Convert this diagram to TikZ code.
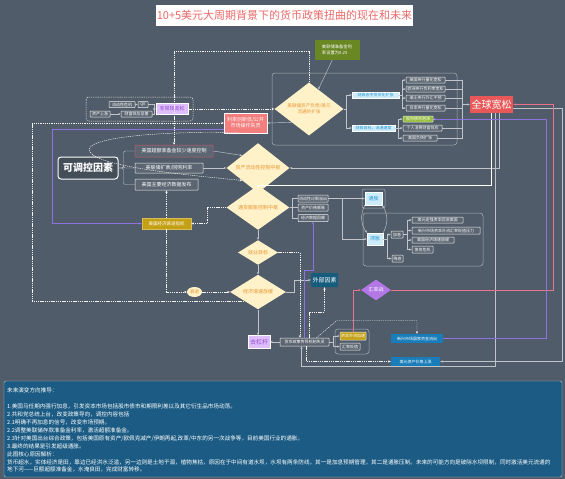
\documentclass[tikz,border=0pt]{standalone}
\usepackage{fontspec}
\setmainfont{Noto Sans CJK SC}
\usetikzlibrary{shapes.geometric,arrows.meta}

\definecolor{bgc}{RGB}{80,92,105}
\definecolor{boxgray}{RGB}{92,102,114}
\definecolor{lgray}{RGB}{190,196,202}
\definecolor{diayel}{RGB}{255,241,200}
\definecolor{diaorg}{RGB}{232,150,50}
\definecolor{lblue}{RGB}{205,236,250}
\definecolor{lbtxt}{RGB}{40,150,210}
\definecolor{qqred}{RGB}{232,88,88}
\definecolor{salmon}{RGB}{244,125,125}
\definecolor{notegreen}{RGB}{105,135,35}
\definecolor{leafgreen}{RGB}{150,190,60}
\definecolor{goldc}{RGB}{196,160,20}
\definecolor{darkblue}{RGB}{22,92,125}
\definecolor{violet2}{RGB}{180,120,230}
\definecolor{lav}{RGB}{222,190,252}
\definecolor{lavtxt}{RGB}{150,70,210}
\definecolor{bluebox}{RGB}{25,125,185}
\definecolor{panelc}{RGB}{28,92,132}
\definecolor{purpl}{RGB}{140,115,225}
\definecolor{pinkl}{RGB}{232,115,140}
\definecolor{redborder}{RGB}{205,85,110}
\definecolor{titlered}{RGB}{235,105,105}

\begin{document}
\begin{tikzpicture}[x=1pt,y=-1pt,>={Stealth[length=2.6pt,width=2.2pt]},
    every node/.style={inner sep=0.5pt},
    sz/.style 2 args={minimum width=#1,minimum height=#2},
    gbox/.style={draw=white!85!gray,fill=boxgray,text=white,font=\fontsize{4}{4.5}\selectfont,line width=0.5pt,rounded corners=0.6pt},
    dia/.style={diamond,fill=diayel,text=diaorg,font=\fontsize{5}{5.8}\selectfont,align=center,inner sep=0pt},
    lbbox/.style={fill=lblue,text=lbtxt,draw=white,line width=0.4pt,font=\fontsize{4}{4.5}\selectfont},
    link/.style={draw=lgray,line width=0.45pt,->},
    dlink/.style={link,draw=white!92!gray,dash pattern=on 1.3pt off 0.9pt},
    grpframe/.style={draw=lgray!80!bgc,line width=0.5pt,rounded corners=3pt}]
    \fill[bgc] (0,0) rectangle (565,479);
    \useasboundingbox (0,0) rectangle (565,479);

    \node[fill=white,text=titlered,font=\fontsize{11}{12}\selectfont,sz={253}{21}] (title) at (284.5,15.5) {10+5美元大周期背景下的货币政策扭曲的现在和未来};

    % upper part
    \draw[grpframe] (272,73) rectangle (457,145);
    \node[fill=notegreen,text=white,font=\fontsize{4.3}{6}\selectfont,align=left,sz={45}{20}] (note) at (337,50) {美联储准备金利\\率设置为0.25};
    \node[dia,sz={69}{43},font=\fontsize{4.6}{5.6}\selectfont] (fed) at (309,109) {美联储资产负债/美元\\流通的扩张};
    \node[lbbox,sz={47}{6}] (fis) at (375.5,95) {财政赤字货币化扩张};
    \node[lbbox,sz={43}{6}] (vel) at (373.5,128) {财政目标，流通速度};
    \node[gbox,sz={39}{6}] (ga) at (425.5,80) {英国央行量化宽松};
    \node[gbox,sz={39}{6}] (gb) at (425.5,89) {欧洲央行负利率宽松};
    \node[gbox,sz={39}{6}] (gc) at (425.5,98) {瑞士央行外汇干预};
    \node[gbox,sz={39}{6}] (gd) at (425.5,108) {日本央行量化宽松};
    \node[gbox,fill=leafgreen,sz={30}{6}] (ge) at (418,119) {股市债市泡沫};
    \node[gbox,sz={39}{6}] (gf) at (422.5,128) {个人消费财富效应};
    \node[gbox,sz={34}{6}] (gg) at (420,138) {美国负债扩张};
    \node[fill=qqred,text=white,font=\fontsize{10}{11}\selectfont,sz={43}{17}] (qq) at (491.5,104.5) {全球宽松};

    \draw[grpframe,draw=white!80!gray,dash pattern=on 1.3pt off 0.9pt] (86,97) rectangle (193,121);
    \node[gbox,sz={26}{6}] (crisis) at (122,104.5) {流动性危机};
    \node[gbox,sz={10}{6}] (qe) at (143,104.5) {QE};
    \node[gbox,sz={20}{6}] (rise) at (100,114) {资产上涨};
    \node[gbox,sz={31}{6}] (wealth) at (136.5,114) {财富效应显著};
    \node[fill=lav,text=lavtxt,draw=white,font=\fontsize{5}{6}\selectfont,sz={32}{11}] (unconv) at (172,109) {非常规宽松};
    \node[fill=salmon,draw=white,text=white,font=\fontsize{5}{6}\selectfont,align=center,sz={43}{20}] (rate) at (245.5,123) {利率创新低/公开\\市场操作失灵};

    % controllable factors
    \node[draw=white,line width=1pt,rounded corners=3pt,fill=bgc!85!black,text=white,font=\fontsize{10}{11}\selectfont\bfseries,sz={60}{22}] (ctrl) at (88,168) {可调控因素};
    \node[gbox,draw=redborder,font=\fontsize{5}{6}\selectfont,sz={78}{12}] (res) at (174,151) {美国超额准备金较少速度控制};
    \node[gbox,font=\fontsize{5}{6}\selectfont,sz={68}{10}] (repo) at (169,168) {美联储扩表/回购利率};
    \node[gbox,font=\fontsize{5}{6}\selectfont,sz={63}{11}] (data) at (166.5,184.5) {美国主要经济数据发布};
    \node[fill=goldc,text=white,draw=goldc!70!white,font=\fontsize{4.5}{5}\selectfont,sz={49}{11}] (gold) at (166.5,223.5) {美国经济衰退指标};
    \node[ellipse,fill=diayel,text=diaorg,font=\fontsize{4.5}{5}\selectfont,sz={15}{10},inner sep=0pt] (jy) at (194.5,292) {衰退};

    % diamonds in the middle
    \node[dia,sz={63}{30}] (liq) at (258,168) {资产流动性控制中枢};
    \node[dia,sz={63}{29}] (infl) at (258,207.5) {通货膨胀控制中枢};
    \node[dia,sz={40}{21}] (emp) at (258,252.5) {就业目标};
    \node[dia,sz={56}{30}] (growth) at (258,292) {经济增速放缓};

    \node[gbox,sz={30}{7}] (m1) at (313,198.5) {流动性过剩溢出};
    \node[gbox,sz={30}{7}] (m2) at (313,207.5) {资产价格膨胀};
    \node[gbox,sz={30}{7}] (m3) at (313,218) {经济数据回暖};
    \draw[grpframe,rounded corners=2pt] (362,189) rectangle (385,208);
    \node[lbbox,font=\fontsize{5}{6}\selectfont,sz={17}{13}] (tz) at (373.5,198.5) {通胀};
    \draw[grpframe] (363,213) rectangle (483,266);
    \node[lbbox,font=\fontsize{5}{6}\selectfont,sz={16}{12}] (zz) at (375,239) {滞胀};
    \node[gbox,sz={12}{7}] (hike) at (397,234.5) {加息};
    \node[gbox,sz={11}{7}] (cut) at (397.5,258.5) {降息};
    \node[gbox,sz={51}{6}] (r1) at (437.5,220) {美元走强资本回流美国};
    \node[gbox,sz={68}{7}] (r2) at (446,230.5) {新兴市场资本外流汇率贬值压力};
    \node[gbox,sz={42}{6}] (r3) at (433,240) {美国经济增速放缓};
    \node[gbox,sz={21}{7}] (r4) at (422.5,249.5) {债务危机};

    \node[fill=darkblue,text=white,rounded corners=1pt,font=\fontsize{6}{7}\selectfont,sz={27}{14}] (wb) at (324.5,280) {外部因素};
    \node[diamond,fill=violet2,text=white,font=\fontsize{5}{6}\selectfont,inner sep=0pt,sz={30}{21}] (hlz) at (376,290) {汇率战};

    % lower part
    \node[fill=lav,text=lavtxt,draw=white,font=\fontsize{6}{7}\selectfont,sz={22}{13}] (qgg) at (259,342) {去杠杆};
    \node[gbox,sz={49}{8}] (hb) at (304.5,342) {货币政策传导机制失灵};
    \draw[grpframe] (335,329) rectangle (369,354);
    \node[gbox,fill=goldc,sz={26}{8}] (yb) at (353,336) {资本外流加速};
    \node[gbox,sz={20}{7}] (gbb) at (350,346.5) {汇率贬值};
    \node[fill=bluebox,text=white,font=\fontsize{4}{4.5}\selectfont,sz={52}{9}] (bl1) at (417,338.5) {新兴市场国家资金流出};
    \node[fill=bluebox,text=white,font=\fontsize{4}{4.5}\selectfont,sz={49}{9}] (bl2) at (415.5,361.5) {美元资产价格上涨};

    % connectors
    \draw[link] (note) -- (fed);
    \draw[dlink] (fed.north) -- ++(0,-31) -| (res.north);
    \draw[dlink] (unconv.east) -- (fed.west);
    \draw[link] (fed.south west) -- (rate.east);
    \draw[link] (fed.east) -- ++(3,0) |- (fis.west);
    \draw[link] (fed.east) -- ++(3,0) |- (vel.west);
    \foreach \g in {ga,gb,gc,gd}
        \draw[link] (fis.east) -- ++(3,0) |- (\g.west);
    \foreach \g in {ge,gf,gg}
        \draw[link] (vel.east) -- ++(3,0) |- (\g.west);
    \coordinate (qin) at (462,104.5);
    \foreach \g in {ga,gb,gc,gd,ge,gf,gg}
        \draw[draw=lgray,line width=0.45pt] (\g.east) -| (qin);
    \draw[link] (qin) -- (qq.west);

    \draw[link] (crisis.east) -- (qe.west);
    \draw[link] (rise.east) -- (wealth.west);
    \draw[link] (qe.east) -- ++(6,0) |- (unconv.west);
    \draw[link] (wealth.east) -- ++(2,0) |- (unconv.west);

    \draw[link] ([xshift=8pt]qq.south) |- (liq.east);
    \draw[link,draw=white,line width=1pt] (qq.south) -- ++(0,72) -| (infl.north);
    \draw[link] ([xshift=4pt]qq.south) -- ++(0,253) -| ([xshift=-3pt]hb.south);
    \draw[link] ([yshift=-4pt]qq.east) -- ++(49,0) |- (bl2.east);
    \draw[link,draw=pinkl] (yb.north) |- (hlz.west);
    \draw[link,draw=pinkl] (hlz.east) -- ++(162,0) |- (qq.east);
    \draw[link,draw=purpl] (bl1.east) -- ++(103,0) |- (ge.east);

    \draw[link,draw=purpl] ([yshift=-6pt]rate.west) -- ++(-172,0) |- (gold.west);
    \draw[dlink] (growth.south west) -- ++(-212,0) |- (rate.west);
    \foreach \b in {res,repo,data}
        \draw[draw=lgray,line width=0.45pt,rounded corners=2pt] (ctrl.east) -- ++(5,0) |- (\b.west);
    \draw[link] (res.east) -- (liq.north west);
    \draw[link] (repo.east) -- (liq.west);
    \draw[dlink] (rate.south) .. controls (160,130) and (80,138) .. (90,152)
        .. controls (100,168) and (200,176) .. (liq.south west);

    \draw[dlink] (infl.west) -- ++(-19,0) |- (gold.east);
    \draw[dlink] (gold.north) -- (data.south);
    \draw[dlink] (gold.south) |- (jy.west);
    \draw[dlink] (jy.east) -- (growth.west);
    \draw[link] (infl.south) -- (emp.north);
    \draw[link] (emp.south) -- (growth.north);
    \draw[link] (growth.south) -- (growth.south |- qgg.north);
    \draw[dlink,line width=0.7pt] (emp.east) -| ([xshift=-4.5pt]hb.north);
    \draw[link] (growth.east) -- ++(8,0) |- (wb.west);
    \draw[dlink] ([xshift=4.5pt]hb.north) -- ++(0,-26) -| (wb.south);
    \draw[link,draw=purpl] (hb.north) -- ++(0,-68) -| (m3.south);

    \foreach \m in {m1,m2,m3}
        \draw[draw=lgray,line width=0.45pt] (infl.east) -- ++(3,0) |- (\m.west);
    \draw[link] (m1.east) -- (tz.west);
    \draw[link] (m1.east) -- ++(14,0) |- (zz.west);
    \draw[link] (tz.south west) to[bend right=30] (zz.north west);
    \draw[link] (zz.north east) to[bend right=30] (tz.south east);
    \foreach \k in {hike,cut}
        \draw[link] (zz.east) -- ++(4,0) |- (\k.west);
    \foreach \r in {r1,r2,r3,r4}
        \draw[link] (hike.east) -- ++(4,0) |- (\r.west);

    \draw[link] (hb.west) -- (qgg.east);
    \foreach \y in {yb,gbb}
        \draw[link] (hb.east) -- ++(4,0) |- (\y.west);
    \draw[dlink] ([xshift=12pt]hb.north) -- ++(20,-17) -| (bl1.north);
    \draw[dlink] ([xshift=2pt]hb.south) |- (bl2.west);

    % notes panel
    \draw[fill=panelc,draw=lgray,rounded corners=2pt] (4,381) rectangle (562,477);
    \node[anchor=north west,align=left,text=white,inner sep=0pt,font=\fontsize{5.6}{7.9}\selectfont] (future) at (7,388) {未来演变方向推导：\\[7.9pt]
        1.美国马任期内强行加息，引发资本市场包括股市债市和期限利差以及其它衍生品市场动荡。\\
        2.共和党总统上台，改变政策导向，调控内容包括\\
        2.1明确不再加息的信号，改变市场预期。\\
        2.2调整美联储存款准备金利率，激活超额准备金。\\
        2.3针对美国出台综合政策，包括美国原有资产/欧佩克减产/伊朗再起,改革/中东的另一次战争等，目前美国行业的通胀。\\
        3.最终的结果是引发超级通胀。\\
        此图核心原因解析：\\
        货币超水，实体经济是田，靠边已经洪水泛滥，另一边则是土地干涸，植物焦枯，原因在于中间有道水坝，水坝有两条防线，其一是加息预期管理，其二是通胀压制。未来的可能方向是破除水坝限制，同时激活美元流通的\\
        地下河——巨额超额准备金，水淹良田，完成财富转移。};
\end{tikzpicture}
\end{document}
